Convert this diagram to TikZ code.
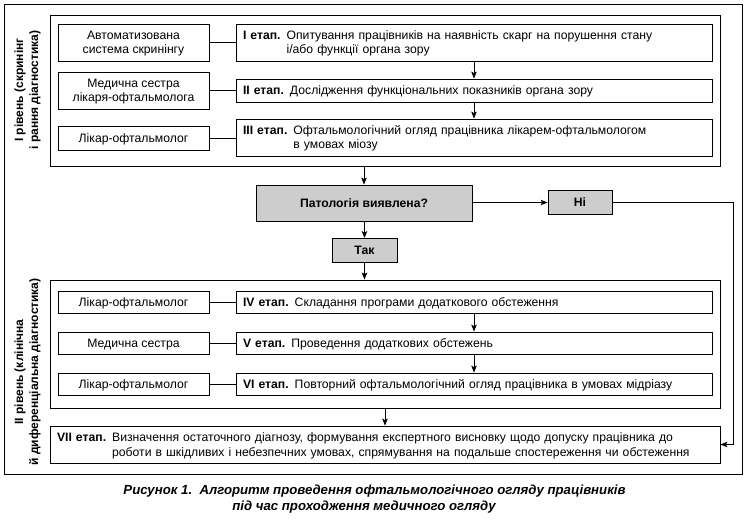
\documentclass[tikz,border=0pt]{standalone}
\usepackage{fontspec}
\setmainfont{Liberation Sans}
\usetikzlibrary{arrows.meta}
\newcommand\diagfont{\fontsize{12.2}{14.3}\selectfont}
\newcommand\stagetext[2]{\begin{tabular}[t]{@{}l@{\hspace{6pt}}l@{}}\textbf{#1} & #2\end{tabular}}
\definecolor{boxgray}{RGB}{205,205,205}
\begin{document}
\begin{tikzpicture}[x=1pt,y=-1pt,
  box/.style={draw, line width=0.8pt, inner sep=0pt, font=\diagfont, text height=8.7pt, text depth=0pt},
  twoline/.style={text depth=14.3pt},
  twolinewho/.style={text height=23pt, text depth=0pt},
  who/.style={box, minimum width=151pt, align=center},
  stagebox/.style={box, minimum width=476pt, text width=462pt, inner xsep=7pt, align=left},
  framebox/.style={draw, line width=0.9pt, inner sep=0pt},
  greybox/.style={box, fill=boxgray, font=\diagfont\bfseries},
  link/.style={line width=0.8pt},
  arr/.style={line width=0.8pt, -{Stealth[length=7pt,width=5.5pt,inset=1.5pt]}},
  levellabel/.style={rotate=90, align=center, font=\fontsize{12}{15}\selectfont\bfseries},
  captext/.style={font=\fontsize{13.2}{16}\selectfont\bfseries\itshape}
]
\useasboundingbox (0,0) rectangle (747,521);
% outer frame
\node[framebox, line width=1pt, minimum width=738pt, minimum height=469pt] (outer) at (373,239.5) {};
% level frames
\node[framebox, minimum width=670pt, minimum height=151pt] (lvl1) at (385,90.5) {};
\node[framebox, minimum width=670pt, minimum height=128pt] (lvl2) at (385,344) {};
% level labels
\node[levellabel] (lab1) at (27.5,90) {I рівень (скринінг\\і рання діагностика)};
\node[levellabel] (lab2) at (27.5,372) {II рівень (клінічна\\й диференціальна діагностика)};
% level I rows
\node[who, twolinewho, minimum height=37pt] (w1) at (133.5,42.5) {Автоматизована\\система скринінгу};
\node[stagebox, twoline, minimum height=37pt] (s1) at (474,42.5) {\stagetext{I етап.}{Опитування працівників на наявність скарг на порушення стану\\ & і/або функції органа зору}};
\node[who, twolinewho, minimum height=37pt] (w2) at (133.5,90.5) {Медична сестра\\лікаря-офтальмолога};
\node[stagebox, minimum height=23pt] (s2) at (474,90.5) {\stagetext{II етап.}{Дослідження функціональних показників органа зору}};
\node[who, minimum height=24pt] (w3) at (133.5,138) {Лікар-офтальмолог};
\node[stagebox, twoline, minimum height=37pt] (s3) at (474,137.5) {\stagetext{III етап.}{Офтальмологічний огляд працівника лікарем-офтальмологом\\ & в умовах міозу}};
\draw[link] (w1) -- (s1);
\draw[link] (w2) -- (s2);
\draw[link] (w3.east) -- (w3.east -| s3.west);
\draw[arr] (s1) -- (s2);
\draw[arr] (s2) -- (s3);
% decision
\node[greybox, minimum width=216pt, minimum height=36pt] (pat) at (364,203) {Патологія виявлена?};
\node[greybox, minimum width=65pt, minimum height=24pt] (tak) at (364.5,250.5) {Так};
\node[greybox, minimum width=64pt, minimum height=24pt] (ni) at (580,202.5) {Ні};
\draw[arr] (pat.north |- lvl1.south) -- (pat.north);
\draw[arr] (pat.south -| tak.north) -- (tak.north);
\draw[arr] (pat.east |- ni.west) -- (ni.west);
\draw[arr] (tak.south) -- (tak.south |- lvl2.north);
% level II rows
\node[who, minimum height=22pt] (w4) at (133.5,302) {Лікар-офтальмолог};
\node[stagebox, minimum height=22pt] (s4) at (474,302) {\stagetext{IV етап.}{Складання програми додаткового обстеження}};
\node[who, minimum height=22pt] (w5) at (133.5,343) {Медична сестра};
\node[stagebox, minimum height=22pt] (s5) at (474,343) {\stagetext{V етап.}{Проведення додаткових обстежень}};
\node[who, minimum height=22pt] (w6) at (133.5,384) {Лікар-офтальмолог};
\node[stagebox, minimum height=22pt] (s6) at (474,384) {\stagetext{VI етап.}{Повторний офтальмологічний огляд працівника в умовах мідріазу}};
\draw[link] (w4) -- (s4);
\draw[link] (w5) -- (s5);
\draw[link] (w6) -- (s6);
\draw[arr] (s4) -- (s5);
\draw[arr] (s5) -- (s6);
% final stage
\node[box, twoline, minimum width=670pt, text width=656pt, inner xsep=7pt, align=left, minimum height=37pt] (s7) at (385,444.5) {\stagetext{VII етап.}{Визначення остаточного діагнозу, формування експертного висновку щодо допуску працівника до\\ & роботи в шкідливих і небезпечних умовах, спрямування на подальше спостереження чи обстеження}};
\draw[arr] (lvl2.south) -- (s7.north);
\coordinate (turn) at (733,202.5);
\draw[arr] (ni.east) -- (turn) |- (s7.east);
% caption
\node[captext] (cap1) at (374.5,491) {Рисунок 1.\ \ Алгоритм проведення офтальмологічного огляду працівників};
\node[captext] (cap2) at (364,507) {під час проходження медичного огляду};
\end{tikzpicture}
\end{document}
